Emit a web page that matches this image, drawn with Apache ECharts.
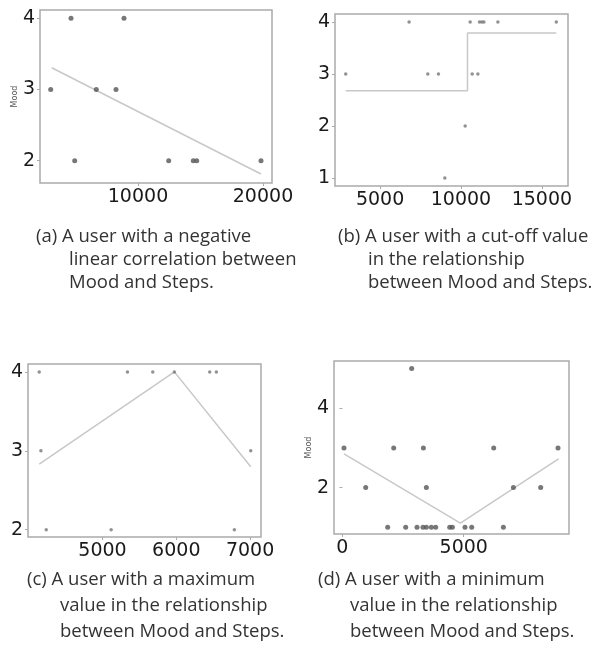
<!DOCTYPE html>
<html>
<head>
<meta charset="utf-8">
<script src="https://cdn.jsdelivr.net/npm/echarts@6/dist/echarts.min.js"></script>
<style>
html,body{margin:0;padding:0;background:#fff;}
#chart{width:592px;height:649px;}
</style>
</head>
<body>
<div id="chart"></div>
<script>
// (a) negative linear correlation
var aSteps = [3016, 4640, 4936, 6664, 8240, 8880, 12456, 14424, 14696, 19840];
var aMood  = [3, 4, 2, 3, 3, 4, 2, 2, 2, 2];
var aFitSteps = [3096, 19840];
var aFitMood  = [3.306, 1.813];
var aXTicks = [10000, 20000];
var aYTicks = [2, 3, 4];

// (b) cut-off value
var bSteps = [2877, 6795, 7950, 8608, 9003, 10260, 10569, 10693, 11045, 11145, 11293, 11417, 12283, 15891];
var bMood  = [3, 4, 3, 3, 1, 2, 4, 3, 3, 4, 4, 4, 4, 4];
var bFitSteps = [2877, 10403, 10403, 15891];
var bFitMood  = [2.676, 2.676, 3.788, 3.788];
var bXTicks = [5000, 10000, 15000];
var bYTicks = [1, 2, 3, 4];

// (c) maximum value
var cSteps = [4142, 4165, 4237, 5117, 5338, 5681, 5974, 6453, 6543, 6787, 7009];
var cMood  = [4, 3, 2, 2, 4, 4, 4, 4, 4, 2, 3];
var cFitSteps = [4142, 5974, 7009];
var cFitMood  = [2.832, 4.0, 2.798];
var cXTicks = [5000, 6000, 7000];
var cYTicks = [2, 3, 4];

// (d) minimum value
var dSteps = [66, 960, 1866, 2114, 2608, 2855, 3074, 3337, 3320, 3460, 3666, 3845, 3460, 4421, 4532, 5052, 5328, 6234, 6634, 7046, 8170, 8884];
var dMood  = [3, 2, 1, 3, 1, 5, 1, 3, 1, 1, 1, 1, 2, 1, 1, 1, 1, 3, 1, 2, 2, 3];
var dFitSteps = [66, 4862, 8905];
var dFitMood  = [2.849, 1.106, 2.723];
var dXTicks = [0, 5000];
var dYTicks = [2, 4];

var captions = [
  ["(a) A user with a negative", "linear correlation between", "Mood and Steps."],
  ["(b) A user with a cut-off value", "in the relationship", "between Mood and Steps."],
  ["(c) A user with a maximum", "value in the relationship", "between Mood and Steps."],
  ["(d) A user with a minimum", "value in the relationship", "between Mood and Steps."]
];

function zip(xs, ys){ return xs.map(function(x,i){ return [x, ys[i]]; }); }

var panels = [
  {grid:{left:40, top:10, width:232, height:173}, xr:[2160,20720], yr:[1.687,4.117], xt:aXTicks, yt:aYTicks,
   pts:zip(aSteps,aMood), fit:zip(aFitSteps,aFitMood), ms:5, mc:'#555', name:'Mood'},
  {grid:{left:335, top:14, width:233, height:172}, xr:[2215,16615], yr:[0.846,4.154], xt:bXTicks, yt:bYTicks,
   pts:zip(bSteps,bMood), fit:zip(bFitSteps,bFitMood), ms:3.5, mc:'#777', name:''},
  {grid:{left:28, top:364, width:233, height:173}, xr:[3990,7148], yr:[1.907,4.10], xt:cXTicks, yt:cYTicks,
   pts:zip(cSteps,cMood), fit:zip(cFitSteps,cFitMood), ms:3.5, mc:'#777', name:''},
  {grid:{left:334, top:361, width:235, height:173}, xr:[-346,9337], yr:[0.83,5.19], xt:dXTicks, yt:dYTicks,
   pts:zip(dSteps,dMood), fit:zip(dFitSteps,dFitMood), ms:5, mc:'#555', name:'Mood'}
];

var tickFont = {fontFamily:'DejaVu Sans', fontSize:19, color:'#1a1a1a'};
function plain(v){ return String(Math.round(v)); }
var option = {
  animation:false,
  backgroundColor:'#fff',
  grid:[], xAxis:[], yAxis:[], series:[], graphic:[]
};
panels.forEach(function(p, i){
  option.grid.push(Object.assign({show:true, borderColor:'#aaa', borderWidth:1.5, backgroundColor:'transparent'}, p.grid));
  option.xAxis.push({
    type:'value', gridIndex:i, min:p.xr[0], max:p.xr[1],
    axisLine:{show:false}, splitLine:{show:false},
    axisTick:{show:true, length:3, lineStyle:{color:'#aaa'}, customValues:p.xt},
    axisLabel:Object.assign({margin:5, customValues:p.xt, formatter:plain}, tickFont)
  });
  option.yAxis.push({
    type:'value', gridIndex:i, min:p.yr[0], max:p.yr[1],
    name:p.name, nameLocation:'middle', nameGap:21, nameRotate:90,
    nameTextStyle:{fontFamily:'DejaVu Sans', fontSize:8, color:'#555'},
    axisLine:{show:false}, splitLine:{show:false},
    axisTick:{show:true, length:3, lineStyle:{color:'#aaa'}, customValues:p.yt},
    axisLabel:Object.assign({margin:5, customValues:p.yt, formatter:plain}, tickFont)
  });
  option.series.push({
    type:'line', xAxisIndex:i, yAxisIndex:i, data:p.fit, symbol:'none',
    lineStyle:{color:'#c8c8c8', width:1.5}, z:2, silent:true
  });
  option.series.push({
    type:'scatter', xAxisIndex:i, yAxisIndex:i, data:p.pts, symbolSize:p.ms,
    itemStyle:{color:p.mc}, z:3, silent:true
  });
});

var capPos = [
  {x1:36, x2:69, ys:[239, 262, 285]},
  {x1:338, x2:368, ys:[239, 262, 285]},
  {x1:27, x2:60, ys:[582, 608, 634]},
  {x1:318, x2:350, ys:[582, 608, 634]}
];
captions.forEach(function(lines, i){
  var c = capPos[i];
  lines.forEach(function(t, j){
    option.graphic.push({
      type:'text', left:(j===0?c.x1:c.x2), top:c.ys[j]-12,
      style:{text:t, fontFamily:'Open Sans', fontSize:18.5, fill:'#333'}
    });
  });
});

var chart = echarts.init(document.getElementById('chart'), null, {renderer:'canvas'});
chart.setOption(option);
</script>
</body>
</html>
